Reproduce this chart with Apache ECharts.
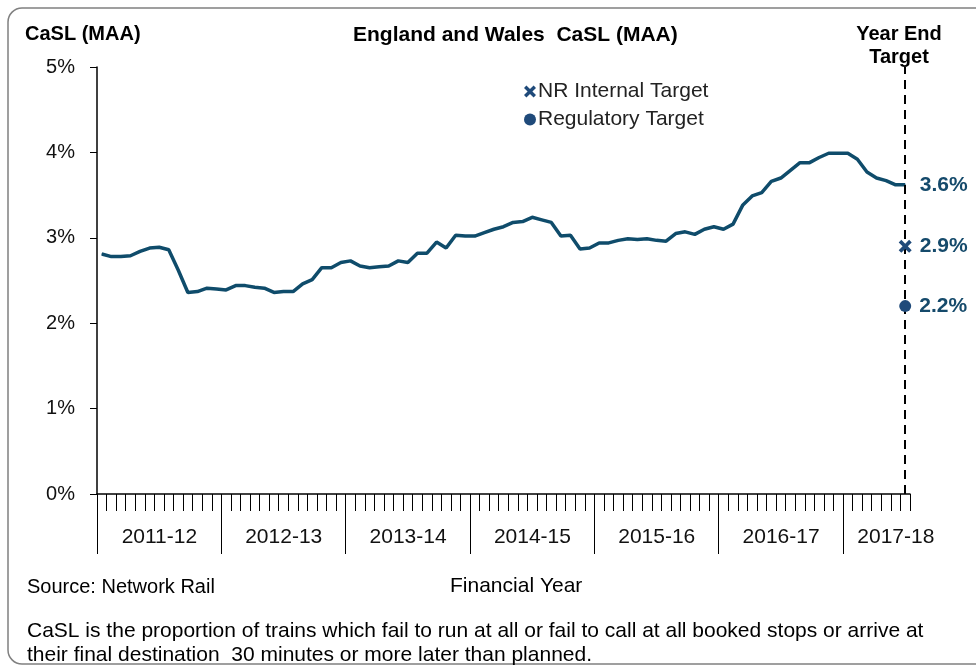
<!DOCTYPE html>
<html lang="en">

<head>
    <meta charset="UTF-8">
    <title>England and Wales CaSL (MAA)</title>
    <script src="https://cdn.jsdelivr.net/npm/echarts@6/dist/echarts.min.js"></script>
    <style>
        html, body { margin: 0; padding: 0; background: #fff; }
        #main { width: 976px; height: 670px; }
    </style>
</head>

<body>
    <div id="main"></div>

    <script>
        // financial years, 13 four-week periods each (2017-18 up to P7)
        var years = ['2011-12', '2012-13', '2013-14', '2014-15', '2015-16', '2016-17', '2017-18'];
        var periodsInLastYear = 7;

        // CaSL moving annual average, %
        var casl = [
            2.81, 2.78, 2.78, 2.79, 2.84, 2.88, 2.89, 2.86, 2.62, 2.36, 2.37, 2.41, 2.40,
            2.39, 2.44, 2.44, 2.42, 2.41, 2.36, 2.37, 2.37, 2.46, 2.51, 2.65, 2.65, 2.71,
            2.73, 2.67, 2.65, 2.66, 2.67, 2.73, 2.71, 2.82, 2.82, 2.95, 2.88, 3.03, 3.02,
            3.02, 3.06, 3.10, 3.13, 3.18, 3.19, 3.24, 3.21, 3.18, 3.02, 3.03, 2.87, 2.88,
            2.94, 2.94, 2.97, 2.99, 2.98, 2.99, 2.97, 2.96, 3.05, 3.07, 3.04, 3.10, 3.13,
            3.10, 3.16, 3.38, 3.49, 3.53, 3.66, 3.70, 3.79, 3.88, 3.88, 3.94, 3.99, 3.99,
            3.99, 3.92, 3.77, 3.70, 3.67, 3.62, 3.62
        ];

        var internalTarget = [2.9];
        var regulatoryTarget = [2.2];

        var yTicks = [0, 1, 2, 3, 4, 5];

        // category list: one entry per period
        var periods = [];
        years.forEach(function (y, i) {
            var n = i === years.length - 1 ? periodsInLastYear : 13;
            for (var p = 1; p <= n; p++) periods.push(y + ' P' + p);
        });
        var lastCat = periods[periods.length - 1];
        // period boundaries (one more than periods) for the year ticks / labels
        var boundaries = periods.concat(['end']);

        var FONT = 'Arial, "Liberation Sans", sans-serif';
        var LINE = '#0f4c6b';
        var MARK = '#1f4a7a';
        var LABEL = '#154a6b';

        var caslData = casl.map(function (v, i) {
            if (i === casl.length - 1) {
                return {
                    value: v,
                    label: {
                        show: true, position: 'right', distance: 14,
                        formatter: v.toFixed(1) + '%',
                        fontFamily: FONT, fontSize: 21, fontWeight: 'bold', color: LABEL
                    }
                };
            }
            return v;
        });

        var crossPath = 'path://M0,2 L2,0 L5,3 L8,0 L10,2 L7,5 L10,8 L8,10 L5,7 L2,10 L0,8 L3,5 Z';

        var titleText = function (size, weight) {
            return { fontFamily: FONT, fontSize: size, fontWeight: weight, color: '#000' };
        };

        var myChart = echarts.init(document.getElementById('main'));

        var option = {
            animation: false,
            backgroundColor: '#fff',
            textStyle: { fontFamily: FONT },
            title: [
                { text: 'CaSL (MAA)', left: 25, top: 24, padding: 0, textStyle: titleText(20, 'bold') },
                { text: 'England and Wales  CaSL (MAA)', left: 353, top: 25, padding: 0, textStyle: titleText(21, 'bold') },
                { text: 'Source: Network Rail', left: 27, top: 577, padding: 0, textStyle: titleText(20, 'normal') },
                { text: 'Financial Year', left: 450, top: 576, padding: 0, textStyle: titleText(21, 'normal') },
                {
                    text: 'CaSL is the proportion of trains which fail to run at all or fail to call at all booked stops or arrive at\ntheir final destination  30 minutes or more later than planned.',
                    left: 27, top: 619, padding: 0,
                    textStyle: { fontFamily: FONT, fontSize: 21, fontWeight: 'normal', color: '#000', lineHeight: 24 }
                }
            ],
            graphic: [
                {
                    type: 'rect', silent: true,
                    shape: { x: 8, y: 8, width: 1000, height: 656, r: 14 },
                    style: { fill: 'none', stroke: '#808080', lineWidth: 1.5 }
                },
                {
                    type: 'text', x: 899, y: 23, silent: true,
                    style: { text: 'Year End\nTarget', textAlign: 'center', fontFamily: FONT, fontSize: 20, fontWeight: 'bold', fill: '#000', lineHeight: 23 }
                }
            ],
            legend: {
                orient: 'vertical',
                left: 519, top: 76,
                itemWidth: 12, itemHeight: 12, itemGap: 7,
                textStyle: { fontFamily: FONT, fontSize: 21, color: '#222', padding: [0, 0, 0, -3] },
                data: ['NR Internal Target', 'Regulatory Target']
            },
            grid: { left: 97, right: 66, top: 67, bottom: 176 },
            xAxis: [
                {
                    type: 'category',
                    data: periods,
                    boundaryGap: true,
                    axisLine: { show: true, lineStyle: { color: '#000', width: 1.5 } },
                    axisTick: { show: true, interval: 0, length: 17, lineStyle: { color: '#000', width: 1 } },
                    axisLabel: { show: false },
                    splitLine: { show: false }
                },
                {
                    type: 'category',
                    data: boundaries,
                    position: 'bottom',
                    boundaryGap: false,
                    axisLine: { show: false },
                    axisTick: {
                        show: true, length: 60,
                        interval: function (index) { return index % 13 === 0 && index < periods.length; },
                        lineStyle: { color: '#000', width: 1 }
                    },
                    axisLabel: {
                        show: true, margin: 33,
                        padding: [0, 0, 0, 10],
                        // year name under the middle of each year; the part year sits near its end
                        interval: function (index) {
                            return index % 13 === 6 && index < 78 || index === periods.length - 2;
                        },
                        formatter: function (v) { return v.split(' ')[0]; },
                        fontFamily: FONT, fontSize: 21, color: '#111'
                    },
                    splitLine: { show: false }
                }
            ],
            yAxis: {
                type: 'value',
                min: yTicks[0], max: yTicks[yTicks.length - 1], interval: 1,
                axisLine: { show: true, lineStyle: { color: '#000', width: 1.5 } },
                axisTick: { show: true, length: 7, lineStyle: { color: '#000' } },
                axisLabel: { formatter: '{value}%', margin: 22, fontFamily: FONT, fontSize: 20, color: '#111' },
                splitLine: { show: false }
            },
            series: [
                {
                    name: 'CaSL (MAA)',
                    type: 'line',
                    data: caslData,
                    symbol: 'circle',
                    symbolSize: 1,
                    showSymbol: true,
                    lineStyle: { color: LINE, width: 3.5 },
                    itemStyle: { color: LINE },
                    z: 3,
                    markLine: {
                        silent: true,
                        symbol: 'none',
                        label: { show: false },
                        lineStyle: { color: '#000', width: 2, type: [9, 6] },
                        data: [{ xAxis: lastCat }]
                    }
                },
                {
                    name: 'NR Internal Target',
                    type: 'scatter',
                    symbol: crossPath,
                    symbolSize: 13,
                    itemStyle: { color: MARK, opacity: 1 },
                    z: 5,
                    label: {
                        show: true, position: 'right', distance: 8,
                        formatter: function (p) { return p.value[1].toFixed(1) + '%'; },
                        fontFamily: FONT, fontSize: 21, fontWeight: 'bold', color: LABEL
                    },
                    data: internalTarget.map(function (v) { return [lastCat, v]; })
                },
                {
                    name: 'Regulatory Target',
                    type: 'scatter',
                    symbol: 'circle',
                    symbolSize: 12,
                    itemStyle: { color: MARK, opacity: 1 },
                    z: 5,
                    label: {
                        show: true, position: 'right', distance: 8,
                        formatter: function (p) { return p.value[1].toFixed(1) + '%'; },
                        fontFamily: FONT, fontSize: 21, fontWeight: 'bold', color: LABEL
                    },
                    data: regulatoryTarget.map(function (v) { return [lastCat, v]; })
                }
            ]
        };

        myChart.setOption(option);
    </script>
</body>

</html>
